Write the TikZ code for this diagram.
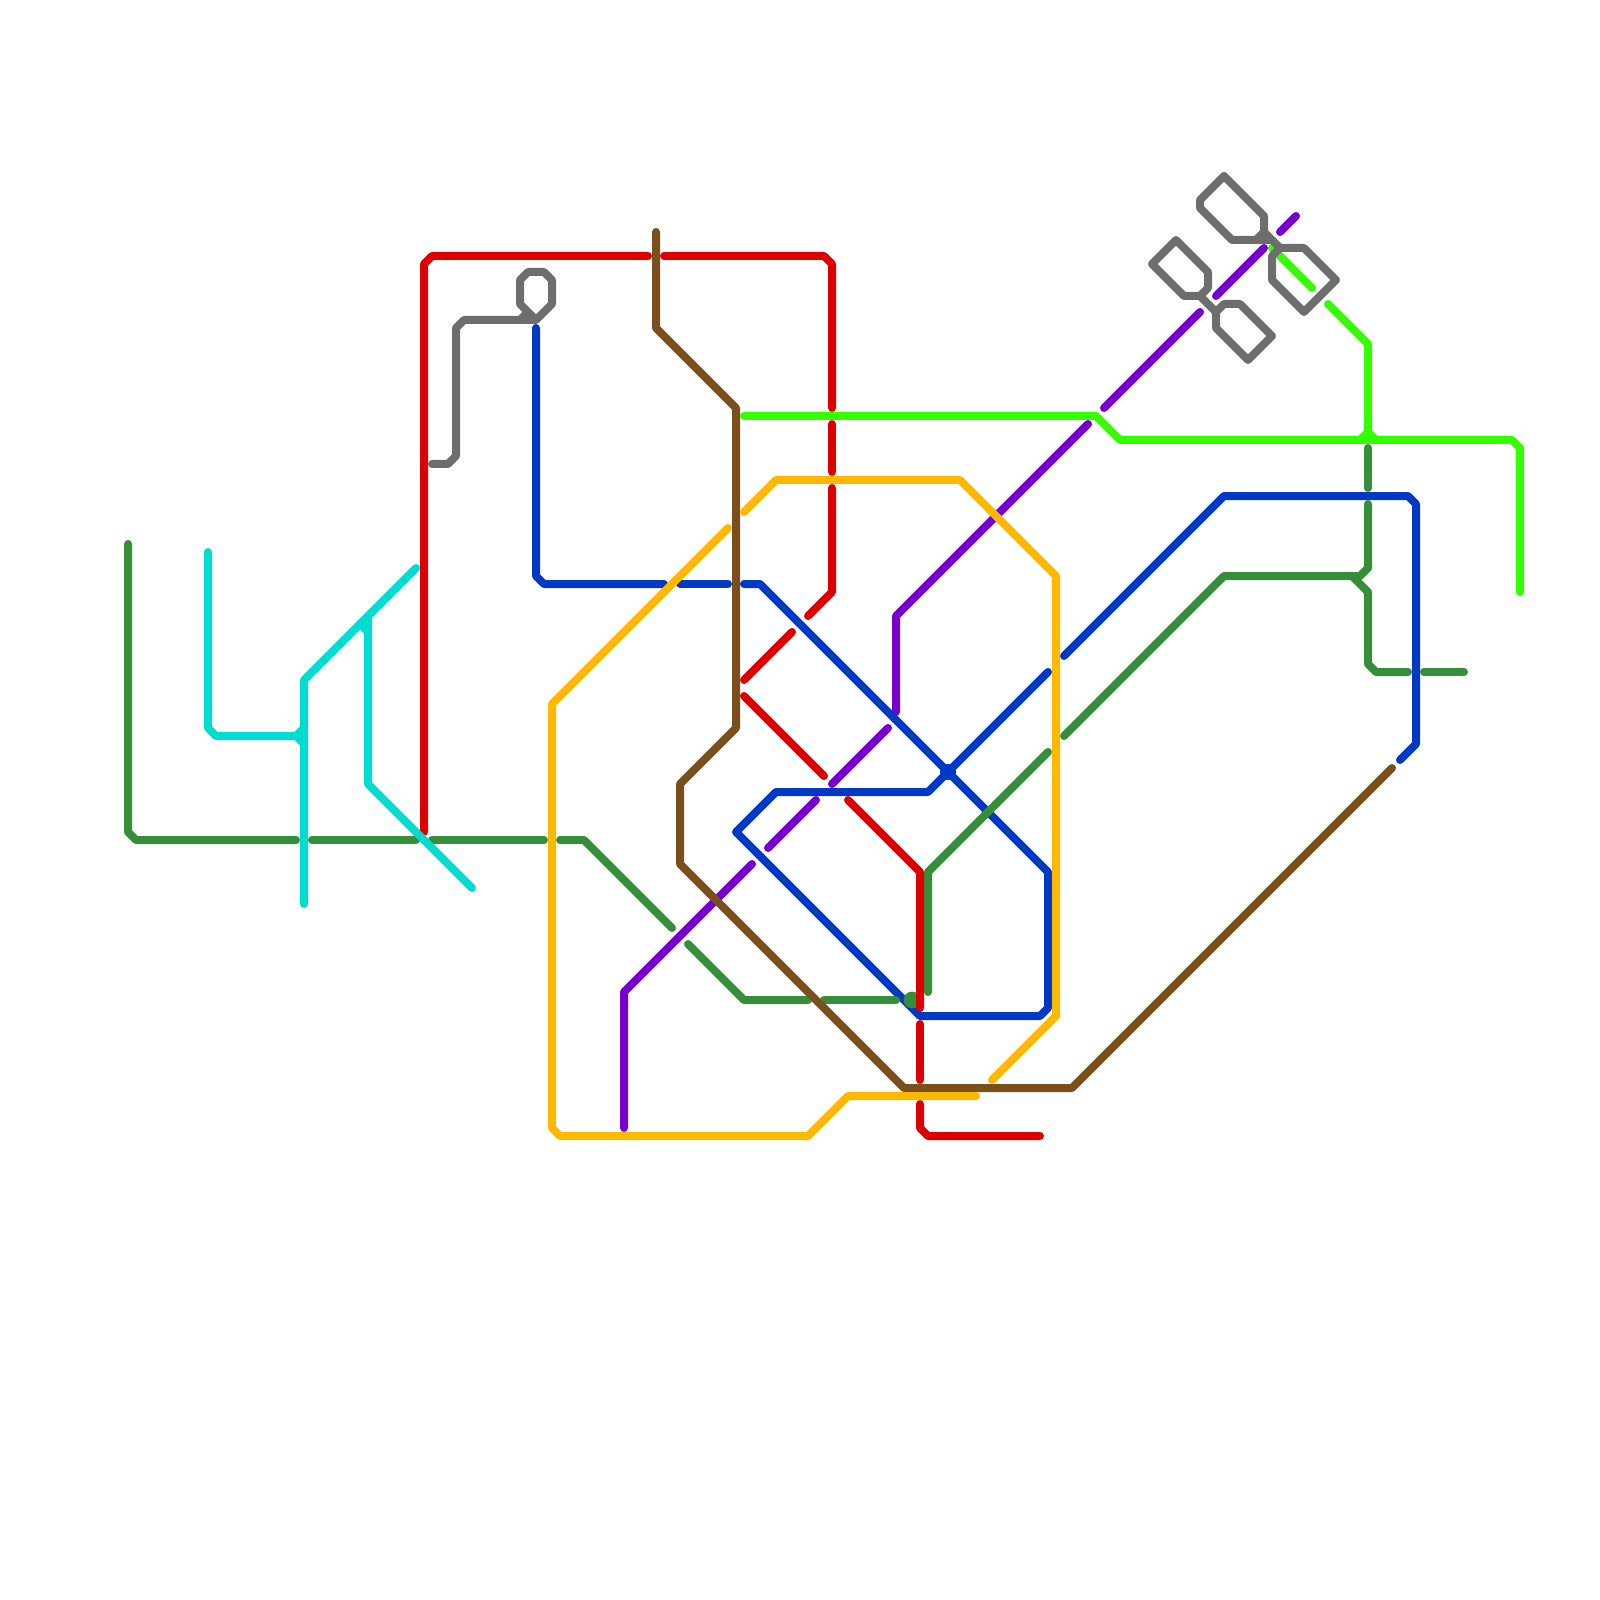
\documentclass[tikz,border=0pt]{standalone}
\usepackage{xcolor}
\definecolor{LineRed}{RGB}{221,0,0}
\definecolor{LineBrown}{RGB}{122,79,28}
\definecolor{LineLime}{RGB}{51,255,0}
\definecolor{LinePurple}{RGB}{119,0,204}
\definecolor{LineBlue}{RGB}{0,57,198}
\definecolor{LineForest}{RGB}{53,142,56}
\definecolor{LineAmber}{RGB}{255,184,0}
\definecolor{LineTeal}{RGB}{0,220,207}
\definecolor{LineGray}{RGB}{109,109,109}

\begin{document}
\begin{tikzpicture}[
      x=0.1cm, y=-0.1cm,
      route/.style={line width=0.1cm, line cap=round, line join=round},
      redroute/.style={route, LineRed},
      brownroute/.style={route, LineBrown},
      limeroute/.style={route, LineLime},
      purpleroute/.style={route, LinePurple},
      blueroute/.style={route, LineBlue},
      forestroute/.style={route, LineForest},
      amberroute/.style={route, LineAmber},
      tealroute/.style={route, LineTeal},
      grayroute/.style={route, LineGray},
      hub/.style={circle, inner sep=0pt, minimum size=#1}
    ]
    \useasboundingbox (0,0) rectangle (200,200);

    % Purple line
    \draw[purpleroute] (162,27) -- (160,29);
    \draw[purpleroute] (158,31) -- (152,37);
    \draw[purpleroute] (150,39) -- (138,51);
    \draw[purpleroute] (136,53) -- (112,77) -- (112,89);
    \draw[purpleroute] (111,91) -- (104,98);
    \draw[purpleroute] (102,100) -- (96,106);
    \draw[purpleroute] (94,108) -- (78,124) -- (78,141);

    % Blue line
    \draw[blueroute] (67,41) -- (67,72) -- (68,73) -- (83,73);
    \draw[blueroute] (85,73) -- (91,73);
    \draw[blueroute] (93,73) -- (95,73) -- (131,109) -- (131,126) -- (130,127) -- (115,127) -- (92,104) -- (97,99) -- (116,99) -- (131,84);
    \draw[blueroute] (133,82) -- (153,62) -- (176,62) -- (177,63) -- (177,93) -- (175,95);
    \node[hub=0.2cm, fill=LineBlue] (bluehub) at (118.5,96.5) {};

    % Lime line
    \draw[limeroute] (93,52) -- (137,52) -- (140,55) -- (189,55) -- (190,56) -- (190,74);
    \draw[limeroute] (166,38) -- (171,43) -- (171,55);
    \draw[limeroute] (170,55) -- (171,54) -- (172,55);
    \draw[limeroute] (159,31) -- (164,36);

    % Forest line
    \draw[forestroute] (16,68) -- (16,104) -- (17,105) -- (37,105);
    \draw[forestroute] (39,105) -- (52,105);
    \draw[forestroute] (54,105) -- (68,105);
    \draw[forestroute] (70,105) -- (73,105) -- (84,116);
    \draw[forestroute] (86,118) -- (93,125) -- (101,125);
    \draw[forestroute] (103,125) -- (112,125);
    \node[hub=0.21cm, fill=LineForest] (foresthub) at (114,125) {};
    \draw[forestroute] (116,124) -- (116,109) -- (131,94);
    \draw[forestroute] (133,92) -- (153,72) -- (170,72) -- (171,71) -- (171,63);
    \draw[forestroute] (169,72) -- (171,74) -- (171,83) -- (172,84) -- (176,84);
    \draw[forestroute] (178,84) -- (183,84);
    \draw[forestroute] (171,56) -- (171,61);

    % Red line
    \draw[redroute] (81,32) -- (54,32) -- (53,33) -- (53,104);
    \draw[redroute] (83,32) -- (103,32) -- (104,33) -- (104,51);
    \draw[redroute] (104,53) -- (104,59);
    \draw[redroute] (104,61) -- (104,74) -- (101,77);
    \draw[redroute] (93,85) -- (99,79);
    \draw[redroute] (93,87) -- (103,97);
    \draw[redroute] (106,100) -- (115,109) -- (115,126);
    \draw[redroute] (115,128) -- (115,135);
    \draw[redroute] (115,138) -- (115,141) -- (116,142) -- (130,142);

    % Brown line
    \draw[brownroute] (82,29) -- (82,41) -- (92,51) -- (92,91) -- (85,98) -- (85,108) -- (113,136) -- (134,136) -- (174,96);

    % Amber line
    \draw[amberroute] (93,64) -- (97,60) -- (120,60) -- (132,72) -- (132,127) -- (124,135);
    \draw[amberroute] (91,66) -- (69,88) -- (69,141) -- (70,142) -- (101,142) -- (106,137) -- (122,137);

    % Teal line
    \draw[tealroute] (26,69) -- (26,91) -- (27,92) -- (37,92);
    \draw[tealroute] (38,91) -- (37,92) -- (38,93);
    \draw[tealroute] (52,71) -- (38,85) -- (38,113);
    \draw[tealroute] (46,77) -- (46,98) -- (59,111);
    \draw[tealroute] (45,78) -- (46,79);

    % Gray line
    \draw[grayroute] (54,58) -- (56,58) -- (57,57) -- (57,41) -- (58,40) -- (67,40) -- (69,38) -- (69,35) -- (68,34) -- (66,34) -- (65,35) -- (65,38) -- (67,40);
    \draw[grayroute] (65,40) -- (66,39);
    \draw[grayroute] (153,22) -- (150,25) -- (150,26) -- (154,30) -- (159,30);
    \draw[grayroute] (157,30) -- (158,29) -- (158,27) -- (153,22);
    \draw[grayroute] (158,29) -- (160,31) -- (163,31) -- (167,35) -- (163,39) -- (159,35) -- (159,32) -- (160,31);
    \draw[grayroute] (147,30) -- (144,33) -- (148,37) -- (150,37) -- (151,36) -- (151,34) -- cycle;
    \draw[grayroute] (150,37) -- (152,39) -- (153,38) -- (155,38) -- (159,42) -- (156,45) -- (152,41) -- (152,39);
    \end{tikzpicture}
\end{document}
